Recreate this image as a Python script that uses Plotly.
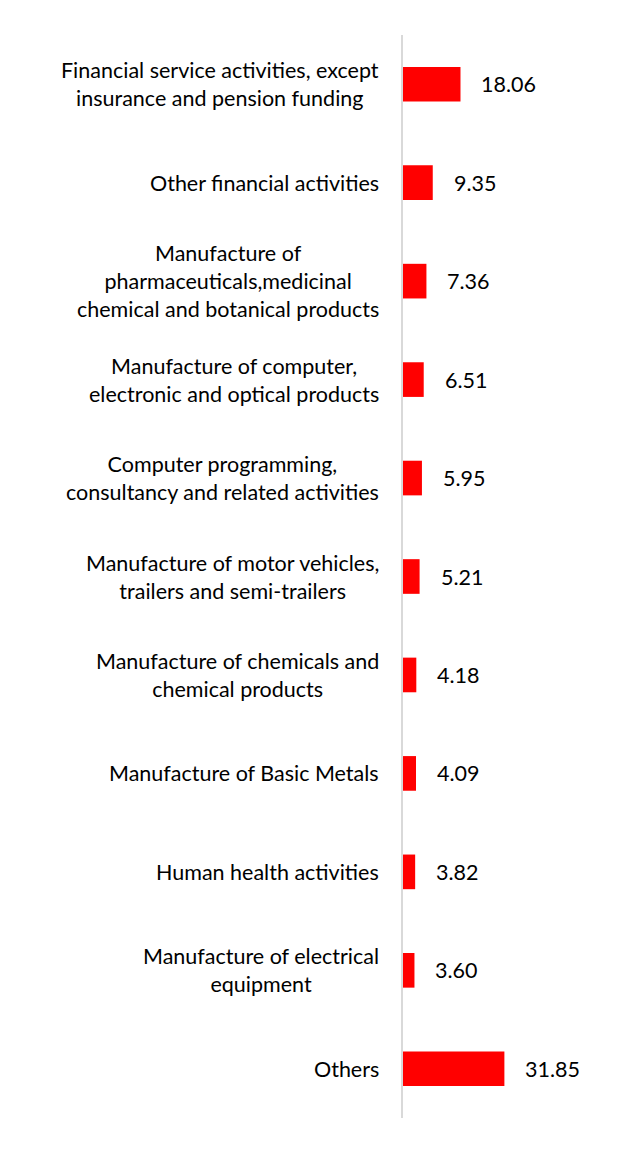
import plotly.graph_objects as go

categories = [
    "Financial service activities, except<br>insurance and pension funding",
    "Other financial activities",
    "Manufacture of<br>pharmaceuticals,medicinal<br>chemical and botanical products",
    "Manufacture of computer,<br>electronic and optical products",
    "Computer programming,<br>consultancy and related activities",
    "Manufacture of motor vehicles,<br>trailers and semi-trailers",
    "Manufacture of chemicals and<br>chemical products",
    "Manufacture of Basic Metals",
    "Human health activities",
    "Manufacture of electrical<br>equipment",
    "Others",
]
values = [18.06, 9.35, 7.36, 6.51, 5.95, 5.21, 4.18, 4.09, 3.82, 3.60, 31.85]
value_labels = [f"{v:.2f}" for v in values]

FONT = "Lato, Carlito, Calibri, sans-serif"

fig = go.Figure(go.Bar(
    x=values,
    y=categories,
    orientation="h",
    marker=dict(color="#ff0000", line=dict(width=0)),
    hoverinfo="skip",
))

annotations = []
for cat, v, lab in zip(categories, values, value_labels):
    annotations.append(dict(
        x=0, xref="paper", y=cat, yref="y",
        text=cat, showarrow=False, xanchor="right", yanchor="middle",
        align="center", xshift=-22,
        font=dict(family=FONT, size=21.5, color="#000000"),
    ))
    annotations.append(dict(
        x=v, xref="x", y=cat, yref="y",
        text=lab, showarrow=False, xanchor="left", yanchor="middle",
        xshift=19,
        font=dict(family=FONT, size=21.5, color="#000000"),
    ))

fig.update_layout(
    width=622, height=1155,
    margin=dict(l=395, r=36, t=27, b=45),
    paper_bgcolor="white", plot_bgcolor="white",
    bargap=0.648,
    showlegend=False,
    annotations=annotations,
    xaxis=dict(range=[0, 60], visible=False, fixedrange=True),
    yaxis=dict(
        type="category", autorange="reversed",
        showticklabels=False, showgrid=False, zeroline=False,
        showline=True, linecolor="#d9d9d9", linewidth=2, ticks="",
    ),
)

fig.write_html("out.html")
